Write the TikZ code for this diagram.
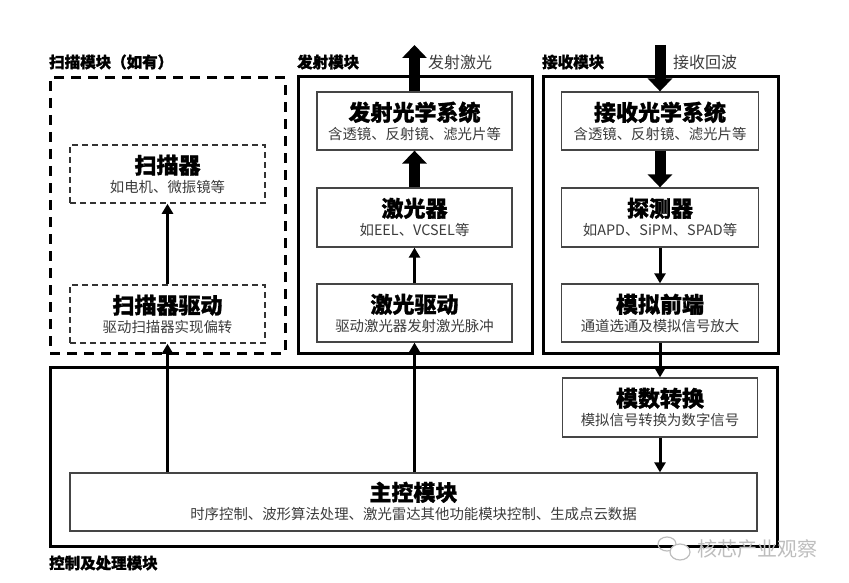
\documentclass[tikz,border=0pt]{standalone}
\usepackage{fontspec}
\setmainfont{Noto Sans CJK SC}[BoldFeatures={FakeBold=1.3}]
\usetikzlibrary{arrows.meta,calc,shapes.geometric}
\definecolor{subgray}{HTML}{3C3C3C}
\definecolor{boxgray}{HTML}{454545}
\definecolor{wmgray}{HTML}{BDBDBD}
\begin{document}
\begin{tikzpicture}[x=1pt,y=-1pt,
  outerbox/.style={draw=black, line width=3pt, inner sep=0pt},
  outerdash/.style={draw=black, line width=3pt, dash pattern=on 10pt off 7pt, inner sep=0pt},
  innerbox/.style={draw=boxgray, line width=1.3pt, fill=white, inner sep=0pt, minimum width=195pt, minimum height=58pt},
  innerdash/.style={draw=black!80, line width=1.6pt, dash pattern=on 6pt off 4pt, inner sep=0pt, minimum width=195pt, minimum height=58pt},
  ttl/.style={font=\bfseries\fontsize{22}{24}\selectfont, text=black, inner sep=0pt},
  subt/.style={font=\fontsize{14.4}{16}\selectfont, text=subgray, inner sep=0pt},
  sect/.style={font=\bfseries\fontsize{15.5}{17}\selectfont, text=black, inner sep=0pt, anchor=west},
  lbl/.style={font=\fontsize{16}{18}\selectfont, text=subgray, inner sep=0pt, anchor=west},
  thinarrow/.style={draw=black, line width=3pt, -{Triangle[width=11pt,length=10pt]}},
  thickarrow/.style={draw=black, line width=11pt, -{Triangle[width=24pt,length=13pt]}}
]
\useasboundingbox (0,0) rectangle (849,583);

% ---- module frames ----
\node[outerdash, minimum width=235pt, minimum height=275pt] (scanmod) at (167.5,215.5) {};
\node[outerbox, minimum width=234pt, minimum height=276pt] (emitmod) at (415,215) {};
\node[outerbox, minimum width=235pt, minimum height=276pt] (recvmod) at (660.5,215) {};
\node[outerbox, minimum width=727pt, minimum height=179pt] (ctrlmod) at (413.5,456.5) {};

% ---- section titles ----
\node[sect] (s-scan) at (49,62) {扫描模块（如有）};
\node[sect] (s-emit) at (297,62) {发射模块};
\node[sect] (s-recv) at (542,62) {接收模块};
\node[sect] (s-ctrl) at (49,563) {控制及处理模块};

% ---- scan module ----
\node[innerdash] (scanner) at (167.5,174) {};
\node[ttl] (t-scanner) at ($(scanner.north)+(0,21)$) {扫描器};
\node[subt] (u-scanner) at ($(scanner.north)+(0,43)$) {如电机、微振镜等};
\node[innerdash] (sdrv) at (167.5,314) {};
\node[ttl] (t-sdrv) at ($(sdrv.north)+(0,21)$) {扫描器驱动};
\node[subt] (u-sdrv) at ($(sdrv.north)+(0,43)$) {驱动扫描器实现偏转};

% ---- emission module ----
\node[innerbox] (eopt) at (414.5,121) {};
\node[ttl] (t-eopt) at ($(eopt.north)+(0,21)$) {发射光学系统};
\node[subt] (u-eopt) at ($(eopt.north)+(0,43)$) {含透镜、反射镜、滤光片等};
\node[innerbox, minimum height=59pt] (laser) at (414.5,217.5) {};
\node[ttl] (t-laser) at ($(laser.north)+(0,21)$) {激光器};
\node[subt] (u-laser) at ($(laser.north)+(0,43)$) {如EEL、VCSEL等};
\node[innerbox] (ldrv) at (414.5,313) {};
\node[ttl] (t-ldrv) at ($(ldrv.north)+(0,21)$) {激光驱动};
\node[subt] (u-ldrv) at ($(ldrv.north)+(0,43)$) {驱动激光器发射激光脉冲};

% ---- receive module ----
\node[innerbox, minimum width=197pt] (ropt) at (660,121) {};
\node[ttl] (t-ropt) at ($(ropt.north)+(0,21)$) {接收光学系统};
\node[subt] (u-ropt) at ($(ropt.north)+(0,43)$) {含透镜、反射镜、滤光片等};
\node[innerbox, minimum width=197pt, minimum height=59pt] (det) at (660,217.5) {};
\node[ttl] (t-det) at ($(det.north)+(0,21)$) {探测器};
\node[subt] (u-det) at ($(det.north)+(0,43)$) {如APD、SiPM、SPAD等};
\node[innerbox, minimum width=197pt] (afe) at (660,313) {};
\node[ttl] (t-afe) at ($(afe.north)+(0,21)$) {模拟前端};
\node[subt] (u-afe) at ($(afe.north)+(0,43)$) {通道选通及模拟信号放大};

% ---- control module ----
\node[innerbox, minimum width=195pt, minimum height=59pt] (adc) at (660,407.5) {};
\node[ttl] (t-adc) at ($(adc.north)+(0,21)$) {模数转换};
\node[subt] (u-adc) at ($(adc.north)+(0,43)$) {模拟信号转换为数字信号};
\node[innerbox, minimum width=687pt] (main) at (413.5,502) {};
\node[ttl] (t-main) at ($(main.north)+(0,20)$) {主控模块};
\node[subt] (u-main) at ($(main.north)+(0,42)$) {时序控制、波形算法处理、激光雷达其他功能模块控制、生成点云数据};

% ---- external light ----
\coordinate (outE) at (414.5,45);
\coordinate (inR) at (660,45);
\node[lbl] (l-out) at (428,62) {发射激光};
\node[lbl] (l-in) at (673,62) {接收回波};

% ---- connectors ----
\draw[thinarrow] (sdrv.north) -- (scanner.south);
\draw[thinarrow] (main.north -| sdrv.south) -- (sdrv.south);
\draw[thinarrow] (main.north -| ldrv.south) -- (ldrv.south);
\draw[thinarrow] (ldrv.north) -- (laser.south);
\draw[thickarrow] (laser.north) -- (eopt.south);
\draw[thickarrow] (eopt.north) -- (outE);
\draw[thickarrow] (inR) -- (ropt.north);
\draw[thickarrow] (ropt.south) -- (det.north);
\draw[thinarrow] (det.south) -- (afe.north);
\draw[thinarrow] (afe.south) -- (adc.north);
\draw[thinarrow] (adc.south) -- (adc.south |- main.north);

% ---- watermark ----
\node[draw=wmgray, line width=1.2pt, ellipse, minimum width=18pt, minimum height=14pt, inner sep=0pt] (wm-b1) at (667,544) {};
\node[draw=wmgray, line width=1.2pt, fill=white, ellipse, minimum width=20pt, minimum height=16pt, inner sep=0pt] (wm-b2) at (680,552) {};
\node[font=\fontsize{20}{22}\selectfont, text=wmgray, anchor=west, inner sep=0pt] (wm) at (697,549) {核芯产业观察};
\end{tikzpicture}
\end{document}
